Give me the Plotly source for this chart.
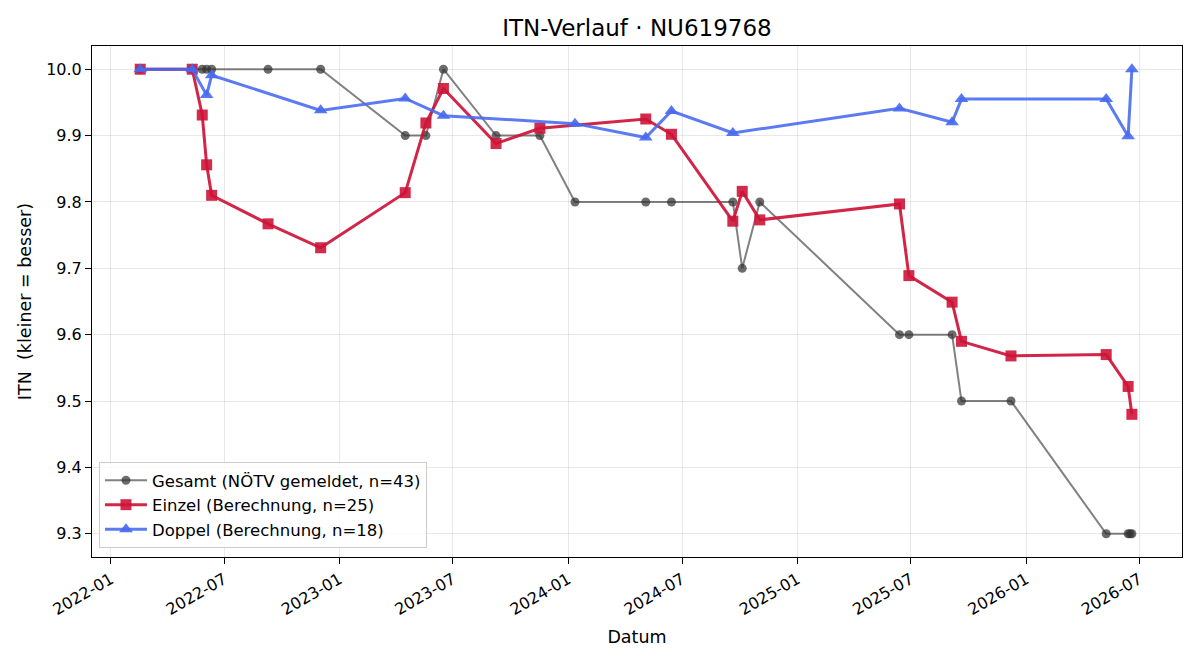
import plotly.graph_objects as go

# ---- data ----
gesamt_dates = ["2022-02-17", "2022-05-11", "2022-05-27", "2022-06-03", "2022-06-11",
                "2022-09-09", "2022-12-02", "2023-04-16", "2023-05-19", "2023-06-16",
                "2023-09-08", "2023-11-17", "2024-01-12", "2024-05-04", "2024-06-14",
                "2024-09-20", "2024-10-05", "2024-11-02", "2025-06-13", "2025-06-28",
                "2025-09-05", "2025-09-20", "2025-12-08", "2026-05-09", "2026-06-13",
                "2026-06-16", "2026-06-19"]
gesamt_itn = [10.0, 10.0, 10.0, 10.0, 10.0,
              10.0, 10.0, 9.9, 9.9, 10.0,
              9.9, 9.9, 9.8, 9.8, 9.8,
              9.8, 9.7, 9.8, 9.6, 9.6,
              9.6, 9.5, 9.5, 9.3, 9.3,
              9.3, 9.3]

einzel_dates = ["2022-02-17", "2022-05-11", "2022-05-27", "2022-06-03", "2022-06-11",
                "2022-09-09", "2022-12-02", "2023-04-16", "2023-05-19", "2023-06-16",
                "2023-09-08", "2023-11-17", "2024-05-04", "2024-06-14", "2024-09-20",
                "2024-10-05", "2024-11-02", "2025-06-13", "2025-06-28", "2025-09-05",
                "2025-09-20", "2025-12-08", "2026-05-09", "2026-06-13", "2026-06-19"]
einzel_itn = [10.0, 10.0, 9.931, 9.856, 9.810,
              9.767, 9.731, 9.814, 9.919, 9.971,
              9.888, 9.911, 9.925, 9.902, 9.771,
              9.816, 9.773, 9.797, 9.689, 9.649,
              9.590, 9.568, 9.570, 9.522, 9.480]

doppel_dates = ["2022-02-17", "2022-05-11", "2022-06-03", "2022-06-11", "2022-12-02",
                "2023-04-16", "2023-06-16", "2024-01-12", "2024-05-04", "2024-06-14",
                "2024-09-20", "2025-06-13", "2025-09-05", "2025-09-20", "2026-05-09",
                "2026-06-13", "2026-06-19"]
doppel_itn = [10.0, 10.0, 9.961, 9.991, 9.938,
              9.956, 9.930, 9.918, 9.897, 9.937,
              9.904, 9.941, 9.920, 9.955, 9.955,
              9.899, 10.0]

x_ticks = ["2022-01-01", "2022-07-01", "2023-01-01", "2023-07-01", "2024-01-01",
           "2024-07-01", "2025-01-01", "2025-07-01", "2026-01-01", "2026-07-01"]
y_ticks = [9.3, 9.4, 9.5, 9.6, 9.7, 9.8, 9.9, 10.0]

FONT = "DejaVu Sans"

fig = go.Figure()
fig.add_trace(go.Scatter(
    x=gesamt_dates, y=gesamt_itn, mode="lines+markers",
    name="Gesamt (NÖTV gemeldet, n=43)",
    line=dict(color="rgba(51,51,51,0.62)", width=2),
    marker=dict(symbol="circle", size=9, color="rgba(51,51,51,0.72)",
                line=dict(width=0)),
))
fig.add_trace(go.Scatter(
    x=einzel_dates, y=einzel_itn, mode="lines+markers",
    name="Einzel (Berechnung, n=25)",
    line=dict(color="rgba(205,20,55,0.92)", width=3),
    marker=dict(symbol="square", size=11, color="rgba(205,20,55,0.9)",
                line=dict(width=0)),
))
fig.add_trace(go.Scatter(
    x=doppel_dates, y=doppel_itn, mode="lines+markers",
    name="Doppel (Berechnung, n=18)",
    line=dict(color="rgba(70,105,240,0.88)", width=3),
    marker=dict(symbol="triangle-up", size=12, color="rgba(70,105,240,0.9)",
                line=dict(width=0)),
))

axis_common = dict(
    showline=True, linecolor="black", linewidth=1, mirror=True,
    ticks="outside", ticklen=6, tickwidth=1, tickcolor="black",
    showgrid=True, gridcolor="rgba(0,0,0,0.09)", gridwidth=1,
    zeroline=False, tickfont=dict(family=FONT, size=16, color="black"),
)

fig.update_layout(
    width=1200, height=660,
    margin=dict(l=92, r=18, t=46, b=103),
    paper_bgcolor="white", plot_bgcolor="white",
    font=dict(family=FONT, color="black"),
    title=dict(text="ITN-Verlauf · NU619768", x=0.5, xref="paper",
               y=1 - 28 / 660, yref="container", yanchor="middle",
               font=dict(family=FONT, size=23, color="black")),
    xaxis=dict(
        axis_common, type="date", range=["2021-12-02", "2026-09-07"],
        tickvals=x_ticks, tickformat="%Y-%m", tickangle=-30,
        title=dict(text="Datum", font=dict(family=FONT, size=17.5), standoff=12),
    ),
    yaxis=dict(
        axis_common, range=[9.265, 10.035], tickvals=y_ticks, tickformat=".1f",
        title=dict(text="ITN\u00a0 (kleiner = besser)", font=dict(family=FONT, size=17.5),
                   standoff=10),
    ),
    legend=dict(
        x=0.0064, y=0.0176, xanchor="left", yanchor="bottom",
        bgcolor="rgba(255,255,255,0.8)", bordercolor="#cccccc", borderwidth=1,
        font=dict(family=FONT, size=16.5, color="black"),
        itemwidth=42,
    ),
    showlegend=True,
)

fig.write_html("out.html")
